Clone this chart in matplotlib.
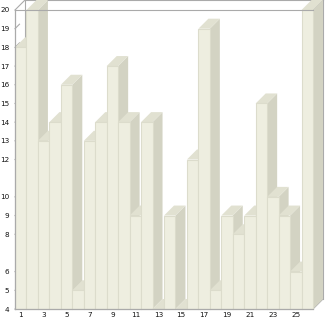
import matplotlib
matplotlib.use("Agg")
import matplotlib.pyplot as plt
from matplotlib.patches import Polygon

# data
categories = list(range(1, 27))
values = [18, 20, 13, 14, 16, 5, 13, 14, 17, 14, 9, 14, 4,
          9, 4, 12, 19, 5, 9, 8, 9, 15, 10, 9, 6, 20]
y_ticks = [4, 5, 6, 8, 9, 10, 12, 13, 14, 15, 16, 17, 18, 19, 20]
x_ticks = list(range(1, 26, 2))

FRONT = '#eeeee0'
TOP = '#e1e1d1'
SIDE = '#d3d3c3'
EDGE = '#dcdccc'
FRAME = '#aaaaaa'

fig = plt.figure(figsize=(3.26, 3.21), dpi=100)
ax = fig.add_axes([15/326, 12/321, 298/326, 299/321])
ymin, ymax = 4, 20
xmin, xmax = 0.5, 26.5
ax.set_xlim(xmin, xmax)
ax.set_ylim(ymin, ymax)

# depth offset of the fake 3d, ~10 px right and up, in data units
dx = 10 / (298 / 26)
dy = 10 / (299 / 16)

# back frame (behind the bars)
back = [
    [(xmin + dx, ymax + dy), (xmax + dx, ymax + dy)],
    [(xmin + dx, ymax + dy), (xmin + dx, ymin + dy)],
    [(xmax + dx, ymax + dy), (xmax + dx, ymin + dy)],
    [(xmin, ymax), (xmin + dx, ymax + dy)],
    [(xmax, ymax), (xmax + dx, ymax + dy)],
    [(xmax, ymin), (xmax + dx, ymin + dy)],
]
for seg in back:
    (x0, y0), (x1, y1) = seg
    ax.plot([x0, x1], [y0, y1], color=FRAME, lw=0.8, zorder=1, clip_on=False)

# little diagonal ticks on the left wall
for v in y_ticks[:-1]:
    ax.plot([xmin, xmin + dx * 0.45], [v, v + dy * 0.45], color=FRAME,
            lw=0.8, zorder=1, clip_on=False)

bars = ax.bar(categories, [v - ymin for v in values], bottom=ymin, width=1.0,
              color=FRONT, edgecolor=EDGE, linewidth=0.8)
for i, (rect, v) in enumerate(zip(bars, values)):
    x0 = rect.get_x()
    x1 = x0 + rect.get_width()
    side = Polygon([(x1, ymin), (x1 + dx, ymin + dy), (x1 + dx, v + dy), (x1, v)],
                   closed=True, facecolor=SIDE, edgecolor='none',
                   zorder=3 + 3 * i, clip_on=False)
    top = Polygon([(x0, v), (x1, v), (x1 + dx, v + dy), (x0 + dx, v + dy)],
                  closed=True, facecolor=TOP, edgecolor='none',
                  zorder=4 + 3 * i, clip_on=False)
    ax.add_patch(side)
    ax.add_patch(top)
    rect.set_zorder(5 + 3 * i)
    rect.set_clip_on(False)

# front frame
ax.plot([xmin, xmax], [ymax, ymax], color=FRAME, lw=0.8, zorder=200, clip_on=False)
for s in ['top', 'right']:
    ax.spines[s].set_visible(False)
for s in ['left', 'bottom']:
    ax.spines[s].set_color(FRAME)
    ax.spines[s].set_linewidth(0.9)
    ax.spines[s].set_zorder(200)

ax.set_yticks(y_ticks)
ax.set_yticklabels([str(t) for t in y_ticks])
ax.set_xticks(x_ticks)
ax.set_xticklabels([str(t) for t in x_ticks])
ax.tick_params(length=0, labelsize=5.2, colors='#111111')
ax.tick_params(axis='y', pad=4)
ax.tick_params(axis='x', pad=2)
ax.patch.set_visible(False)

fig.savefig('out.png', dpi=100)
